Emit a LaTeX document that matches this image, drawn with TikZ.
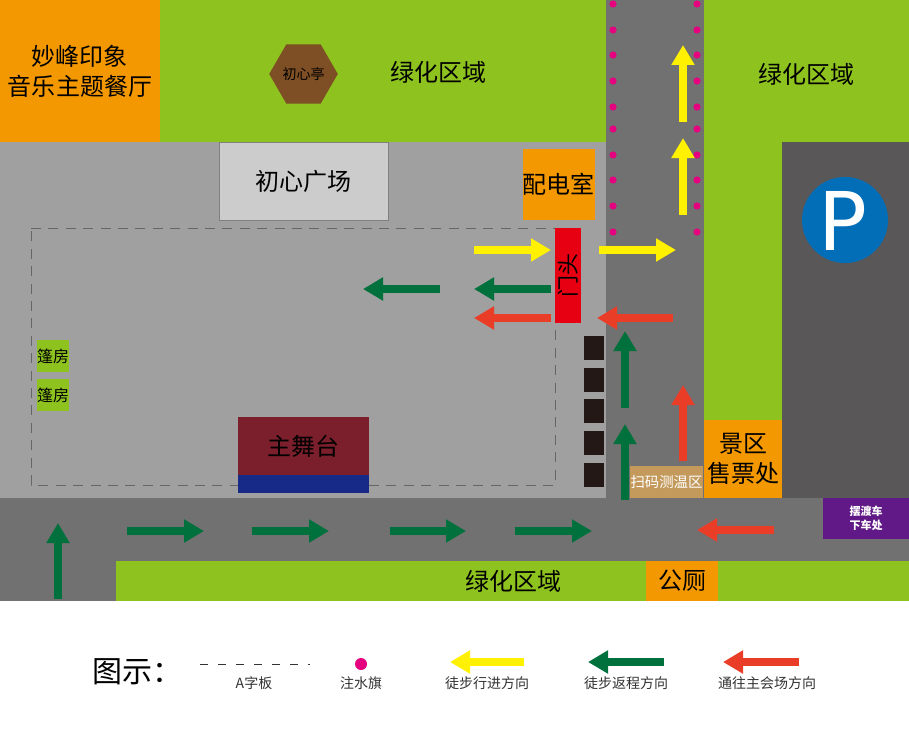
\documentclass[tikz,border=0pt]{standalone}
\usepackage{fontspec}
\usepackage{xcolor}
\setmainfont{DejaVu Sans}
\newfontfamily\cjk{Noto Sans CJK SC}
\usetikzlibrary{arrows.meta}
\usetikzlibrary{shapes.geometric}

\definecolor{lawn}{HTML}{8EC31F}
\definecolor{kiosk}{HTML}{F39800}
\definecolor{road}{HTML}{727171}
\definecolor{plaza}{HTML}{A0A0A0}
\definecolor{parking}{HTML}{595757}
\definecolor{shuttle}{HTML}{601986}
\definecolor{scan}{HTML}{C49A5C}
\definecolor{gatered}{HTML}{E60012}
\definecolor{stagered}{HTML}{7A1F2B}
\definecolor{stageblue}{HTML}{172A88}
\definecolor{signblue}{HTML}{036EB8}
\definecolor{flag}{HTML}{E4007F}
\definecolor{pavilion}{HTML}{7E4E24}
\definecolor{barrier}{HTML}{231815}
\definecolor{goyellow}{HTML}{FFF100}
\definecolor{backgreen}{HTML}{00703C}
\definecolor{mainred}{HTML}{EA3D27}

\tikzset{
  lab/.style={font=\cjk\fontsize{#1}{30}\selectfont,inner sep=0pt,align=center},
  box/.style={fill=#1,inner sep=0pt,align=center},
  flow/.style={line width=7.5pt,draw=#1,-{Triangle[length=20pt,width=22pt,fill=#1]}},
}

\begin{document}
\begin{tikzpicture}[x=1pt,y=-1pt]
\useasboundingbox (0,0) rectangle (909,741);
\fill[white] (0,0) rectangle (909,741);

% Ground: plaza, roads, lawns
\fill[plaza] (0,142) rectangle (606,498);
\fill[road] (606,0) rectangle (704,498);
\fill[road] (0,498) rectangle (909,601);
\fill[lawn] (160,0) rectangle (606,142);
\fill[lawn] (704,0) rectangle (909,142);
\fill[lawn] (704,142) rectangle (782,420);
\fill[lawn] (116,561) rectangle (909,601);
\fill[parking] (782,142) rectangle (909,498);

% Dashed boundary of the plaza
\draw[black!60,line width=1pt,dash pattern=on 10pt off 7.4pt] (31,228) -- (555,228) -- (555,485) -- (31,485) -- cycle;

% Buildings and stands
\node[box=kiosk,lab=24,minimum width=160pt,minimum height=142pt] (Restaurant) at (80,71) {妙峰印象\\音乐主题餐厅};
\node[box=pavilion,regular polygon,regular polygon sides=6,minimum size=56pt,lab=14] (Pavilion) at (303.5,74) {初心亭};
\node[box=black!20,draw=black!50,line width=0.7pt,lab=24,minimum width=169pt,minimum height=78pt] (Square) at (303.5,181) {初心广场};
\node[box=kiosk,lab=24,minimum width=71pt,minimum height=71pt] (Power) at (558.5,184.5) {配电室};
\node[box=gatered,minimum width=26pt,minimum height=95pt] (Gate) at (568,275.5) {};
\node[lab=22,rotate=90] (GateText) at (Gate.center) {门头};
\node[box=lawn,lab=16,minimum width=32pt,minimum height=32pt] (TentA) at (53,356) {篷房};
\node[box=lawn,lab=16,minimum width=32pt,minimum height=32pt] (TentB) at (53,395) {篷房};
\node[box=stagered,lab=24,minimum width=131pt,minimum height=58pt] (Stage) at (303.5,446) {主舞台};
\node[box=stageblue,minimum width=131pt,minimum height=18pt] (StageFront) at (303.5,484) {};
\node[box=kiosk,lab=24,minimum width=78pt,minimum height=78pt] (Tickets) at (743,459) {景区\\售票处};
\node[box=scan,lab=14.4,text=white,minimum width=73pt,minimum height=32pt] (Scan) at (666.5,482) {扫码测温区};
\node[box=shuttle,text=white,font=\cjk\bfseries\fontsize{11}{13.5}\selectfont,minimum width=86pt,minimum height=41pt] (Shuttle) at (866,518.5) {摆渡车\\下车处};
\node[box=kiosk,lab=24,minimum width=72pt,minimum height=40pt] (Toilet) at (682,581) {公厕};

% Lawn labels
\node[lab=24] (LawnA) at (438,72) {绿化区域};
\node[lab=24] (LawnB) at (806,74) {绿化区域};
\node[lab=24] (LawnC) at (513,581) {绿化区域};

% Parking sign
\node[circle,fill=signblue,minimum size=86pt,inner sep=0pt] (Sign) at (845,220) {};
\node[inner sep=0pt,text=white,font=\fontsize{81}{81}\selectfont] (SignText) at (843,220.5) {P};

% Barriers and flags
\foreach \yb in {348,379.5,411,442.5,474.5}
  \fill[barrier] (584,\yb-12) rectangle (604,\yb+12);
\foreach \yf in {4,30,55,81,107,129,155,180,206,232} {
  \fill[flag] (613,\yf) circle (3.6pt);
  \fill[flag] (697,\yf) circle (3.6pt);
}

% Walking directions
\draw[flow=goyellow] (683,122) -- (683,45);
\draw[flow=goyellow] (683,215) -- (683,138);
\draw[flow=goyellow] (474,250) -- (551,250);
\draw[flow=goyellow] (599,250) -- (676,250);
\draw[flow=backgreen] (440,289) -- (363,289);
\draw[flow=backgreen] (551,289) -- (474,289);
\draw[flow=backgreen] (625,408) -- (625,331);
\draw[flow=backgreen] (625,500) -- (625,424);
\draw[flow=backgreen] (58,599) -- (58,523);
\foreach \xa/\xb in {127/204,252/329,390/466,515/592}
  \draw[flow=backgreen] (\xa,531) -- (\xb,531);
\draw[flow=mainred] (551,318) -- (474,318);
\draw[flow=mainred] (673,318) -- (597,318);
\draw[flow=mainred] (683,461) -- (683,385);
\draw[flow=mainred] (774,530) -- (697,530);

% Legend
\node[lab=30] (LegendTitle) at (137,672) {图示：};
\draw[black!80,line width=0.8pt,dash pattern=on 8pt off 10pt] (200,664) -- (310,664);
\fill[flag] (361,664) circle (6pt);
\draw[flow=goyellow] (524,662) -- (450,662);
\draw[flow=backgreen] (664,662) -- (588,662);
\draw[flow=mainred] (799,662) -- (723,662);
\node[lab=14,text=black!80] (LegendA) at (254,683) {A字板};
\node[lab=14,text=black!80] (LegendB) at (361,683) {注水旗};
\node[lab=14,text=black!80] (LegendC) at (487,683) {徒步行进方向};
\node[lab=14,text=black!80] (LegendD) at (626,683) {徒步返程方向};
\node[lab=14,text=black!80] (LegendE) at (767,683) {通往主会场方向};
\end{tikzpicture}
\end{document}
